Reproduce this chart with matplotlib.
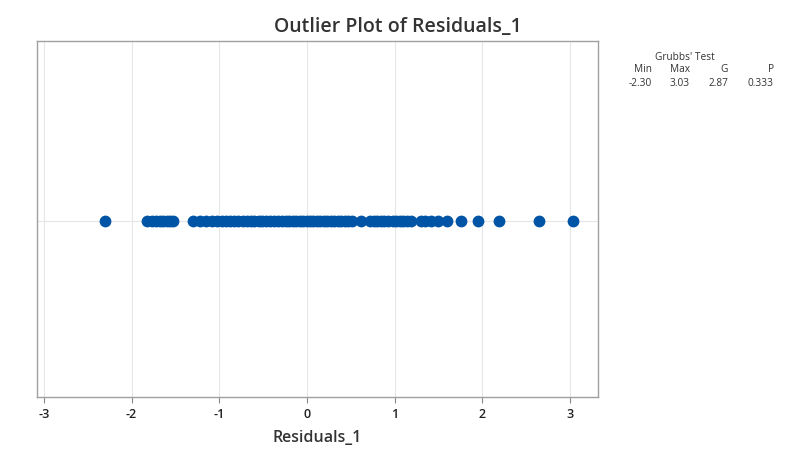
import matplotlib.pyplot as plt
import numpy as np

plt.rcParams['font.family'] = ['Open Sans', 'DejaVu Sans']

# residual values
residuals = [
    -2.30,
    -1.82, -1.77, -1.72, -1.68, -1.64, -1.60, -1.56, -1.53,
    -1.30, -1.22, -1.15, -1.08, -1.02,
    -0.97, -0.92, -0.88, -0.83, -0.78, -0.73, -0.68, -0.64, -0.60,
    -0.55, -0.51, -0.47, -0.42, -0.38, -0.33, -0.28, -0.24, -0.20,
    -0.16, -0.12, -0.08, -0.04, 0.00, 0.03, 0.07, 0.11, 0.15, 0.19,
    0.23, 0.27, 0.31, 0.35, 0.39, 0.43, 0.47, 0.52,
    0.62,
    0.72, 0.76, 0.80, 0.84, 0.88, 0.92,
    0.98, 1.02, 1.06, 1.10, 1.14, 1.19,
    1.30, 1.35, 1.42, 1.50, 1.60, 1.76, 1.95, 2.19, 2.65, 3.03,
]
xticks = [-3, -2, -1, 0, 1, 2, 3]

test_title = "Grubbs' Test"
test_cols = ['Min', 'Max', 'G', 'P']
test_vals = ['-2.30', '3.03', '2.87', '0.333']

fig = plt.figure(figsize=(8, 4.6), dpi=100)
ax = fig.add_axes([0.046, 0.135, 0.7015, 0.774])

ax.scatter(residuals, np.zeros(len(residuals)), s=72, color='#0054a6', zorder=3, linewidths=0)
ax.axhline(0, color='#e6e6e6', lw=0.8, zorder=1)
for t in xticks:
    ax.axvline(t, color='#e6e6e6', lw=0.8, zorder=1)

ax.set_xlim(-3.08, 3.32)
ax.set_ylim(-0.99, 1.01)
ax.set_yticks([])
ax.set_xticks(xticks)
ax.set_xticklabels([str(t) for t in xticks], fontweight='semibold')
ax.tick_params(axis='x', length=4, width=0.8, color='#888888', labelsize=9, labelcolor='#222222', pad=3)
for sp in ax.spines.values():
    sp.set_color('#a0a0a0')
    sp.set_linewidth(1)

ax.set_xlabel('Residuals_1', fontsize=11.5, color='#333333', labelpad=7, fontweight='semibold')
fig.text(0.4975, 0.941, 'Outlier Plot of Residuals_1', ha='center', va='center', fontsize=14, color='#333333', fontweight='semibold')

# Grubbs' test table
fig.text(685 / 800, 1 - 57 / 460, test_title, ha='center', va='center', fontsize=7.3, color='#333333')
col_x = [652, 690, 728, 774]
for x, c, v in zip(col_x, test_cols, test_vals):
    fig.text(x / 800, 1 - 70 / 460, c, ha='right', va='center', fontsize=7.3, color='#333333')
    fig.text(x / 800, 1 - 84 / 460, v, ha='right', va='center', fontsize=7.3, color='#333333')

fig.savefig('out.png', dpi=100, facecolor='white')
